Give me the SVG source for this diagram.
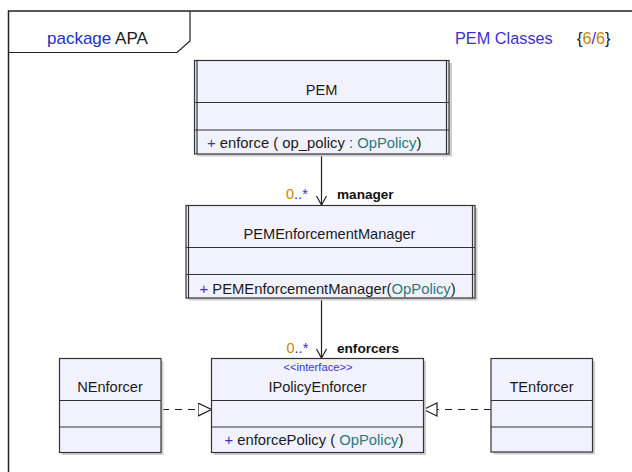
<svg xmlns="http://www.w3.org/2000/svg" width="632" height="472" viewBox="0 0 632 472">
<defs>
<style>
text{font-family:"Liberation Sans",Arial,sans-serif;fill:#1a1a1a}
.box{fill:#f2f2fe;stroke:#333;stroke-width:1.2}
.shadow{fill:#cfcfcf}
.div{stroke:#333;stroke-width:1.2}
.t{font-size:14.6px;text-anchor:middle}
.m{font-size:14.8px}
.vis{fill:#3a30c8}
.kw{fill:#2030c0}
.title{fill:#4030d0}
.type{fill:#2a7a7a}
.num{fill:#c8860a}
.stereo{font-size:11.2px;text-anchor:middle;fill:#3a30e0}
.mult{font-size:14.5px;fill:#c8860a}
.dots{fill:#3a30c8}
.role{font-size:13.6px;font-weight:bold;fill:#111}
.line{stroke:#222;stroke-width:1.2;fill:none}
.dash{stroke:#222;stroke-width:1.2;fill:none;stroke-dasharray:7,6}
</style>
<marker id="open" markerWidth="14" markerHeight="14" refX="10" refY="6" orient="auto" markerUnits="userSpaceOnUse">
<path d="M1,1 L10,6 L1,11" fill="none" stroke="#222" stroke-width="1.2"/>
</marker>
<marker id="tri" markerWidth="18" markerHeight="18" refX="14" refY="7" orient="auto" markerUnits="userSpaceOnUse">
<path d="M0.5,0.5 L14,7 L0.5,13.5 Z" fill="#fff" stroke="#222" stroke-width="1.2"/>
</marker>
</defs>
<rect width="632" height="472" fill="#fff"/>
<g id="frame">
<path d="M8.5,472 L8.5,11 L632,11" fill="none" stroke="#222" stroke-width="1.5"/>
<path d="M8.5,52.5 L177,52.5 L190,41 L190,11" fill="none" stroke="#222" stroke-width="1.2"/>
<text x="47" y="43.5" font-size="17px"><tspan class="kw">package</tspan> APA</text>
<text x="455" y="43.5" font-size="16.3px" class="title">PEM Classes</text>
<text x="577" y="43.5" font-size="16.3px">{<tspan class="num">6</tspan><tspan class="dots">/</tspan><tspan class="num">6</tspan>}</text>
</g>
<g id="connectors">
<line class="line" x1="321.5" y1="154" x2="321.5" y2="205" marker-end="url(#open)"/>
<line class="line" x1="321.5" y1="298" x2="321.5" y2="358" marker-end="url(#open)"/>
<line class="dash" x1="162" y1="409.5" x2="211.5" y2="409.5" marker-end="url(#tri)"/>
<line class="dash" x1="491" y1="409.5" x2="423.5" y2="409.5" marker-end="url(#tri)"/>
<text x="286" y="199" class="mult">0<tspan class="dots">..*</tspan></text>
<text x="337" y="199" class="role">manager</text>
<text x="286.5" y="353" class="mult">0<tspan class="dots">..*</tspan></text>
<text x="337" y="353" class="role">enforcers</text>
</g>
<g id="PEM">
<rect class="shadow" x="197" y="63" width="255" height="93.5"/>
<rect class="box" x="194.5" y="60.5" width="254.5" height="93.5"/>
<line class="div" x1="197" y1="60.5" x2="197" y2="154"/>
<line class="div" x1="446.5" y1="60.5" x2="446.5" y2="154"/>
<line class="div" x1="194.5" y1="102.5" x2="449" y2="102.5"/>
<line class="div" x1="194.5" y1="130" x2="449" y2="130"/>
<text x="321.5" y="95" class="t">PEM</text>
<text x="207" y="147.5" class="m"><tspan class="vis">+</tspan> enforce ( op_policy <tspan class="vis">:</tspan> <tspan class="type">OpPolicy</tspan>)</text>
</g>
<g id="PEMEnforcementManager">
<rect class="shadow" x="188.5" y="208" width="289" height="92.5"/>
<rect class="box" x="186" y="205.5" width="289" height="92.5"/>
<line class="div" x1="188.5" y1="205.5" x2="188.5" y2="298"/>
<line class="div" x1="472.5" y1="205.5" x2="472.5" y2="298"/>
<line class="div" x1="186" y1="247.5" x2="475" y2="247.5"/>
<line class="div" x1="186" y1="274.5" x2="475" y2="274.5"/>
<text x="329.5" y="238.5" class="t">PEMEnforcementManager</text>
<text x="199.5" y="294" class="m"><tspan class="vis">+</tspan> PEMEnforcementManager(<tspan class="type">OpPolicy</tspan>)</text>
</g>
<g id="NEnforcer">
<rect class="shadow" x="62" y="361" width="101.5" height="94"/>
<rect class="box" x="59.5" y="358.5" width="101.5" height="94"/>
<line class="div" x1="59.5" y1="400.5" x2="161" y2="400.5"/>
<line class="div" x1="59.5" y1="427" x2="161" y2="427"/>
<text x="110" y="392" class="t">NEnforcer</text>
</g>
<g id="IPolicyEnforcer">
<rect class="shadow" x="214" y="361" width="212" height="94"/>
<rect class="box" x="211.5" y="358.5" width="212" height="94"/>
<line class="div" x1="211.5" y1="400.5" x2="423.5" y2="400.5"/>
<line class="div" x1="211.5" y1="427" x2="423.5" y2="427"/>
<text x="318" y="370.5" class="stereo">&lt;&lt;interface&gt;&gt;</text>
<text x="317.5" y="392" class="t">IPolicyEnforcer</text>
<text x="224.5" y="445" class="m"><tspan class="vis">+</tspan> enforcePolicy ( <tspan class="type">OpPolicy</tspan>)</text>
</g>
<g id="TEnforcer">
<rect class="shadow" x="493.5" y="361" width="101.5" height="93.5"/>
<rect class="box" x="491" y="358.5" width="101.5" height="93.5"/>
<line class="div" x1="491" y1="400.5" x2="592.5" y2="400.5"/>
<line class="div" x1="491" y1="427" x2="592.5" y2="427"/>
<text x="541.5" y="392" class="t">TEnforcer</text>
</g>
</svg>
